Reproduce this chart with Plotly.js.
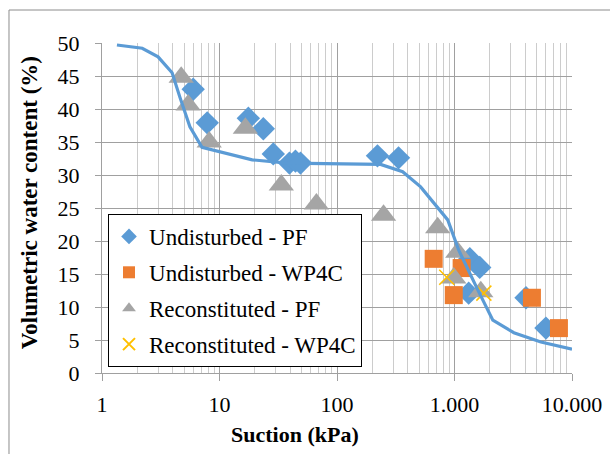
<!DOCTYPE html>
<html><head><meta charset="utf-8">
<script src="https://cdn.plot.ly/plotly-3.0.1.min.js"></script>
<style>html,body{margin:0;padding:0;background:#fff;}#chart{width:610px;height:454px;}
#chart svg text{font-family:'Liberation Serif' !important;}</style>
</head><body><div id="chart"></div>
<script>
// Undisturbed - PF
const updX = [5.97, 7.86, 17.6, 23.6, 28.7, 39.4, 44.3, 48.9, 221, 334, 1350, 1640, 1320, 4060, 6000];
const updY = [43.0, 37.9, 38.6, 37.0, 33.2, 31.8, 32.1, 31.8, 32.9, 32.6, 17.3, 16.0, 12.1, 11.4, 6.8];
// Undisturbed - WP4C
const uwX = [665, 1150, 986, 4560, 7740];
const uwY = [17.3, 15.9, 11.8, 11.4, 6.8];
// Reconstituted - PF
const rpX = [4.72, 5.41, 8.17, 16.6, 33.6, 66.8, 249, 719, 1066, 986, 1674];
const rpY = [44.8, 40.6, 35.0, 37.1, 28.5, 25.6, 23.9, 22.0, 18.3, 14.4, 12.3];
// Reconstituted - WP4C
const rwX = [859, 1778];
const rwY = [14.5, 12.1];
// Fitted curve
const curveX = [1.34, 2.2, 3.0, 3.95, 4.6, 5.6, 7.1, 10, 19, 38, 100, 235, 362, 515, 876, 1087, 1578, 2119, 3200, 5435, 10000];
const curveY = [49.7, 49.2, 47.9, 45.5, 41.8, 37.3, 34.2, 33.5, 32.3, 31.8, 31.7, 31.6, 30.5, 28.2, 23.2, 18.6, 12.6, 8.0, 6.1, 4.7, 3.6];
// Axis ticks and titles
const xTickVals = [1, 10, 100, 1000, 10000];
const xTickText = ['1', '10', '100', '1.000', '10.000'];
const xTitle = 'Suction (kPa)';
const yTitle = 'Volumetric water content (%)';

const FONT = 'Liberation Serif';
const traces = [
  {x: updX, y: updY, mode: 'markers', type: 'scatter', name: 'Undisturbed - PF', legendgroup: 'a',
   marker: {symbol: 'diamond', size: 18, color: '#5b9bd5'}},
  {x: uwX, y: uwY, mode: 'markers', type: 'scatter', name: 'Undisturbed - WP4C', legendgroup: 'b',
   marker: {symbol: 'square', size: 18, color: '#ed7d31'}},
  {x: rpX, y: rpY, mode: 'markers', type: 'scatter', name: 'Reconstituted - PF', legendgroup: 'c',
   marker: {symbol: 'triangle-up', size: 22, color: '#a5a5a5'}},
  {x: rwX, y: rwY, mode: 'markers', type: 'scatter', name: 'Reconstituted - WP4C', legendgroup: 'd',
   marker: {symbol: 'x-thin-open', size: 15, color: '#ffc000', line: {color: '#ffc000', width: 1.5}}},
  {x: curveX, y: curveY, mode: 'lines', type: 'scatter', showlegend: false,
   line: {color: '#5b9bd5', width: 3.2}}
];

const layout = {
  width: 610, height: 454,
  margin: {l: 102, r: 38, t: 43, b: 81},
  paper_bgcolor: '#fff', plot_bgcolor: '#fff',
  font: {family: FONT, color: '#000', size: 20},
  showlegend: true,
  legend: {x: 0.0128, y: 0.482, xanchor: 'left', yanchor: 'top', bgcolor: '#fff',
    bordercolor: '#000', borderwidth: 1, font: {family: FONT, size: 23, color: '#000'},
    tracegroupgap: 3, itemsizing: 'constant', itemwidth: 30},
  xaxis: {type: 'log', range: [0, 4], tickvals: xTickVals, ticktext: xTickText,
    showgrid: true, gridcolor: '#a0a0a0', gridwidth: 1,
    minor: {dtick: 'D1', showgrid: true, gridcolor: '#cccccc', gridwidth: 1, ticks: ''},
    ticks: 'outside', ticklen: 7, tickcolor: '#a0a0a0', showline: true, linecolor: '#a0a0a0',
    zeroline: false, ticklabelstandoff: 5, tickfont: {family: FONT, size: 22, color: '#000'}},
  yaxis: {range: [0, 50], dtick: 5, showgrid: true, gridcolor: '#a0a0a0', gridwidth: 1,
    ticks: 'outside', ticklen: 6, tickcolor: '#a0a0a0', showline: true, linecolor: '#a0a0a0',
    zeroline: false, ticklabelstandoff: 11, tickfont: {family: FONT, size: 22, color: '#000'}},
  annotations: [
    {text: '<b>' + xTitle + '</b>', xref: 'paper', yref: 'paper', x: 0.41, y: -0.185,
     xanchor: 'center', yanchor: 'middle', showarrow: false, font: {family: FONT, size: 22, color: '#000'}},
    {text: '<b>' + yTitle + '</b>', xref: 'paper', yref: 'paper', x: -0.155, y: 0.515, textangle: -90,
     xanchor: 'center', yanchor: 'middle', showarrow: false, font: {family: FONT, size: 23, color: '#000'}}
  ],
  shapes: [
    {type: 'rect', xref: 'paper', yref: 'paper', x0: -0.1979, x1: 1.1, y0: -0.3, y1: 1.1,
     line: {color: '#8c8c8c', width: 1}, fillcolor: 'rgba(0,0,0,0)', layer: 'below'}
  ]
};

Plotly.newPlot('chart', traces, layout, {displayModeBar: false, staticPlot: true});
</script>
</body></html>
